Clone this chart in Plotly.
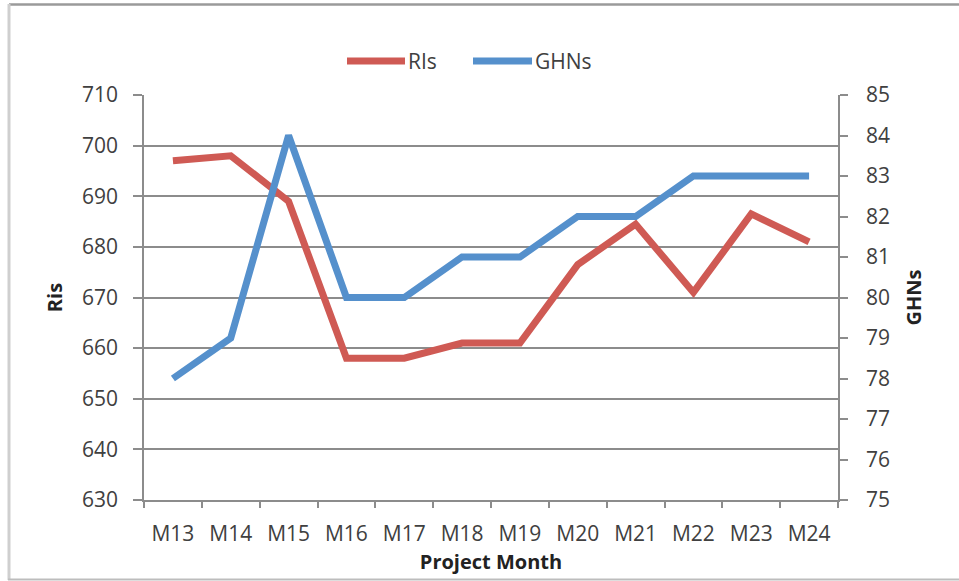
import plotly.graph_objects as go

months = ["M13", "M14", "M15", "M16", "M17", "M18", "M19", "M20", "M21", "M22", "M23", "M24"]
ris_values = [697, 698, 689, 658, 658, 661, 661, 676.5, 684.5, 671, 686.5, 681]
ghns_values = [78, 79, 84, 80, 80, 81, 81, 82, 82, 83, 83, 83]
series_names = ["RIs", "GHNs"]
series_colors = ["#CF5A54", "#5590CC"]

FONT = "Open Sans"
TXT = "#404040"
GRID = "#8c8c8c"
TICKFONT = dict(family=FONT, size=21, color=TXT)

W, H = 959, 581
L, R, T, B = 144, 121, 95, 81
pw, ph = W - L - R, H - T - B

def px_x(x):
    return (x - L) / pw

def px_y(y):
    return 1 - (y - T) / ph

fig = go.Figure()
fig.add_trace(go.Scatter(x=months, y=ris_values, name=series_names[0], mode="lines",
                         line=dict(color=series_colors[0], width=7), yaxis="y", showlegend=False))
fig.add_trace(go.Scatter(x=months, y=ghns_values, name=series_names[1], mode="lines",
                         line=dict(color=series_colors[1], width=7), yaxis="y2", showlegend=False))

# custom legend (line swatch + label) to mimic the long swatches of the original
legend_swatch = [(347, 405), (473, 532)]
legend_y = 61
shapes = []
annotations = []
for (x0, x1), name, col in zip(legend_swatch, series_names, series_colors):
    shapes.append(dict(type="line", xref="paper", yref="paper", x0=px_x(x0), x1=px_x(x1),
                       y0=px_y(legend_y), y1=px_y(legend_y), line=dict(color=col, width=7)))
    annotations.append(dict(xref="paper", yref="paper", x=px_x(x1 + 1), y=px_y(legend_y),
                            xanchor="left", yanchor="middle", text=name, showarrow=False,
                            font=dict(family=FONT, size=21, color=TXT)))

shapes += [
    dict(type="line", xref="paper", yref="paper", x0=px_x(9), x1=px_x(962), y0=px_y(4.5), y1=px_y(4.5),
         line=dict(color="#9a9a9a", width=2.5)),
    dict(type="line", xref="paper", yref="paper", x0=px_x(9), x1=px_x(9), y0=px_y(4), y1=px_y(580),
         line=dict(color="#cfcfcf", width=3)),
    dict(type="line", xref="paper", yref="paper", x0=px_x(8), x1=px_x(962), y0=px_y(579.5), y1=px_y(579.5),
         line=dict(color="#bdbdbd", width=2)),
]

fig.update_layout(
    width=W, height=H,
    margin=dict(l=L, r=R, t=T, b=B, autoexpand=False),
    paper_bgcolor="white", plot_bgcolor="white",
    font=dict(family=FONT, size=21, color=TXT),
    showlegend=False,
    xaxis=dict(
        type="category", range=[-0.5, len(months) - 0.5],
        showline=True, linecolor=GRID, linewidth=1.5,
        ticks="outside", tickson="boundaries", ticklen=6, tickcolor=GRID, tickwidth=1.5,
        ticklabelstandoff=14, showgrid=False, zeroline=False, tickfont=TICKFONT,
        title=dict(text="<b>Project Month</b>", font=dict(family=FONT, size=20, color="#222"), standoff=9),
        automargin=False,
    ),
    yaxis=dict(
        range=[630, 710], dtick=10, tick0=630, showline=True, linecolor=GRID, linewidth=1.5,
        ticks="outside", ticklen=9, tickcolor=GRID, tickwidth=1.5, ticklabelstandoff=11,
        showgrid=True, gridcolor=GRID, gridwidth=1.5, zeroline=False, tickfont=TICKFONT,
        title=dict(text="<b>Ris</b>", font=dict(family=FONT, size=20, color="#222"), standoff=14),
        automargin=False,
    ),
    yaxis2=dict(
        range=[75, 85], dtick=1, tick0=75, overlaying="y", side="right", anchor="x",
        showline=True, linecolor=GRID, linewidth=1.5,
        ticks="outside", ticklen=8, tickcolor=GRID, tickwidth=1.5, ticklabelstandoff=14,
        showgrid=False, zeroline=False, tickfont=TICKFONT,
        title=dict(text="<b>GHNs</b>", font=dict(family=FONT, size=20, color="#222"), standoff=18),
        automargin=False,
    ),
    shapes=shapes,
    annotations=annotations,
)

fig.write_html("out.html")
